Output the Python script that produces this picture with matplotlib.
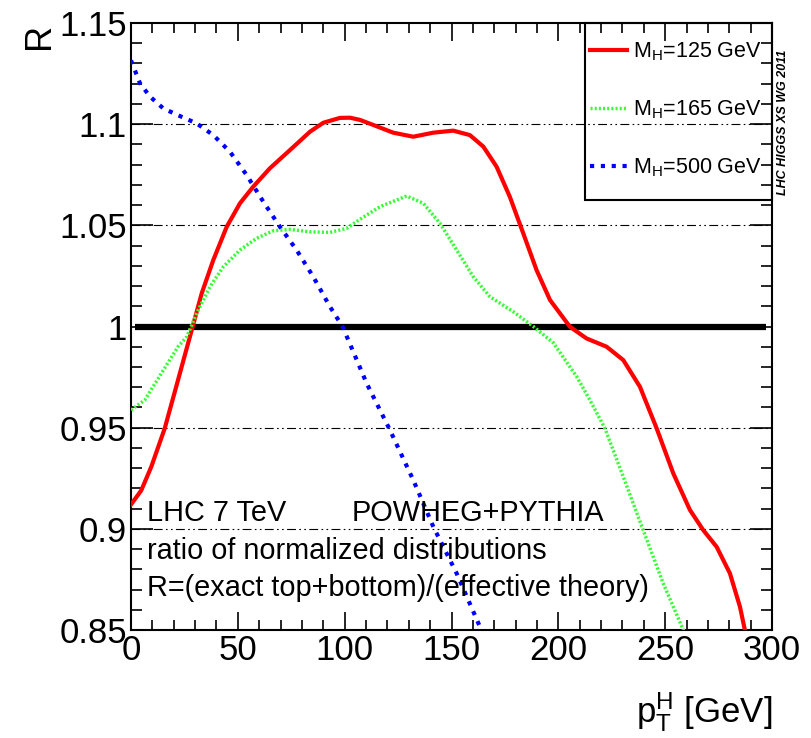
import matplotlib
matplotlib.use("Agg")
import matplotlib.pyplot as plt
from matplotlib.patches import Rectangle

plt.rcParams['font.family'] = ['Liberation Sans', 'DejaVu Sans']
plt.rcParams['mathtext.fontset'] = 'custom'
plt.rcParams['mathtext.rm'] = 'Liberation Sans'
plt.rcParams['mathtext.it'] = 'Liberation Sans'

# ---- data ----
x_125 = [0, 4.8, 9.5, 15.8, 22, 28.4, 33.1, 38.5, 44.8, 51.0, 57.2, 65.0, 74.4, 83.8, 90.0,
         97.8, 102.5, 107.2, 113.4, 122.7, 132.1, 141.5, 150.8, 158.6, 164.9, 171.1, 177.3,
         183.6, 189.8, 196.1, 205.4, 213.2, 222.6, 230.4, 238.2, 246, 253.8, 261.6, 267.8,
         274.1, 280.3, 285, 287.3, 288.5]
r_125 = [0.912, 0.919, 0.9307, 0.9497, 0.9735, 0.9982, 1.0164, 1.0328, 1.0493, 1.0609,
         1.0691, 1.0782, 1.0872, 1.0963, 1.1007, 1.1031, 1.1032, 1.1021, 1.0996, 1.0958,
         1.0938, 1.0958, 1.0968, 1.0946, 1.0889, 1.0790, 1.0641, 1.0460, 1.0279, 1.0131,
         0.9999, 0.9941, 0.9900, 0.9834, 0.9702, 0.9497, 0.9274, 0.9093, 0.8994, 0.8911,
         0.8780, 0.8615, 0.850, 0.844]

x_165 = [0, 6.4, 14.2, 22, 26.1, 30.7, 37, 43.2, 51, 58.8, 66.6, 74.4, 83.8, 93.1, 100.9,
         107.2, 116.5, 129, 136.8, 144.6, 152.4, 160.2, 168, 178.9, 188.3, 197.6, 208.6,
         214.8, 221.8, 230.4, 239.7, 249.1, 258.5, 259.5]
r_165 = [0.9587, 0.9636, 0.9768, 0.990, 0.9949, 1.0065, 1.0197, 1.0295, 1.0378, 1.0436,
         1.0473, 1.0480, 1.0468, 1.0465, 1.0485, 1.0530, 1.0592, 1.0645, 1.0609, 1.0510,
         1.0378, 1.0246, 1.0147, 1.0073, 1.0000, 0.9920, 0.9752, 0.9636, 0.9497, 0.9257,
         0.8994, 0.8730, 0.850, 0.847]

x_500 = [0, 4.2, 8.9, 15.1, 22.9, 30.7, 38.5, 46.3, 54.1, 61.9, 69.7, 77.5, 85.3, 93.1,
         99.0, 110.3, 121.2, 132.1, 141.5, 152.4, 163.3, 165]
r_500 = [1.1315, 1.1202, 1.1136, 1.1078, 1.1040, 1.1004, 1.0946, 1.0864, 1.0749, 1.0617,
         1.0493, 1.0378, 1.0246, 1.0098, 1.0000, 0.9719, 0.9488, 0.9241, 0.9010, 0.8780,
         0.8516, 0.847]

labels = ['M$_{\\mathrm{H}}$=125 GeV', 'M$_{\\mathrm{H}}$=165 GeV', 'M$_{\\mathrm{H}}$=500 GeV']
grid_levels = [1.1, 1.05, 0.95, 0.9]
x_ticks = [0, 50, 100, 150, 200, 250, 300]
y_ticks = [0.85, 0.9, 0.95, 1.0, 1.05, 1.1, 1.15]
y_ticklabels = ['0.85', '0.9', '0.95', '1', '1.05', '1.1', '1.15']

fig = plt.figure(figsize=(8.11, 7.38), dpi=100)
ax = fig.add_axes([131/811, 1-630/738, (772-131)/811, (630-23)/738])
ax.set_xlim(0, 300)
ax.set_ylim(0.85, 1.15)

gstyle = (0, (8, 3, 1.5, 3, 1.5, 3))
for g in grid_levels:
    ax.axhline(g, color='black', lw=0.8, ls=gstyle, zorder=1)
ax.hlines(1.0, 2, 297, color='black', lw=4.5, zorder=2)

l1, = ax.plot(x_125, r_125, color='#ff0000', lw=3, solid_joinstyle='round', zorder=3)
l2, = ax.plot(x_165, r_165, color='#33ff33', lw=2.5, ls=(0, (0.6, 0.6)), zorder=3)
l3, = ax.plot(x_500, r_500, color='#0000ff', lw=3, ls=(0, (1, 1.6)), zorder=3)

ax.set_xticks(x_ticks)
ax.set_xticks(range(0, 301, 10), minor=True)
ax.set_yticks(y_ticks)
ax.set_yticklabels(y_ticklabels)
ax.set_yticks([0.85 + 0.01*i for i in range(31)], minor=True)
ax.tick_params(which='both', direction='in', top=True, right=True, labelsize=25, width=1.2)
ax.tick_params(axis='y', which='major', length=16, pad=3)
ax.tick_params(axis='y', which='minor', length=8)
ax.tick_params(axis='x', which='major', length=13, pad=3)
ax.tick_params(axis='x', which='minor', length=7)
for s in ax.spines.values():
    s.set_linewidth(1.5)

# legend box and entries
ax.add_patch(Rectangle((0.708, 0.708), 0.292, 0.292, transform=ax.transAxes,
                       fill=False, edgecolor='black', lw=1.5, zorder=5, clip_on=False))
ax.legend([l1, l2, l3], labels, loc='center left', bbox_to_anchor=(0.716, 0.857),
          frameon=False, fontsize=15.5, labelspacing=1.65, handlelength=1.7,
          handletextpad=0.3, borderpad=0, borderaxespad=0)

# annotations
tfs = 20.8
ax.text((147-131)/641, (630-513)/607, 'LHC 7 TeV', transform=ax.transAxes, fontsize=tfs, va='center')
ax.text((352-131)/641, (630-513)/607, 'POWHEG+PYTHIA', transform=ax.transAxes, fontsize=tfs, va='center')
ax.text((147-131)/641, (630-551)/607, 'ratio of normalized distributions', transform=ax.transAxes, fontsize=tfs, va='center')
ax.text((147-131)/641, (630-588)/607, 'R=(exact top+bottom)/(effective theory)', transform=ax.transAxes, fontsize=tfs, va='center')

fig.text(783/811, 1-122/738, 'LHC HIGGS XS WG 2011', rotation=90, fontsize=9,
         fontweight='bold', fontstyle='italic', ha='center', va='center')
fig.text(40/811, 1-36/738, 'R', rotation=90, fontsize=26, ha='center', va='center')
fig.text(772/811, 1-712/738, '$\\mathrm{p}_{\\mathrm{T}}^{\\mathrm{H}}$ [GeV]', fontsize=25, ha='right', va='center')

fig.savefig('out.png', dpi=100)
